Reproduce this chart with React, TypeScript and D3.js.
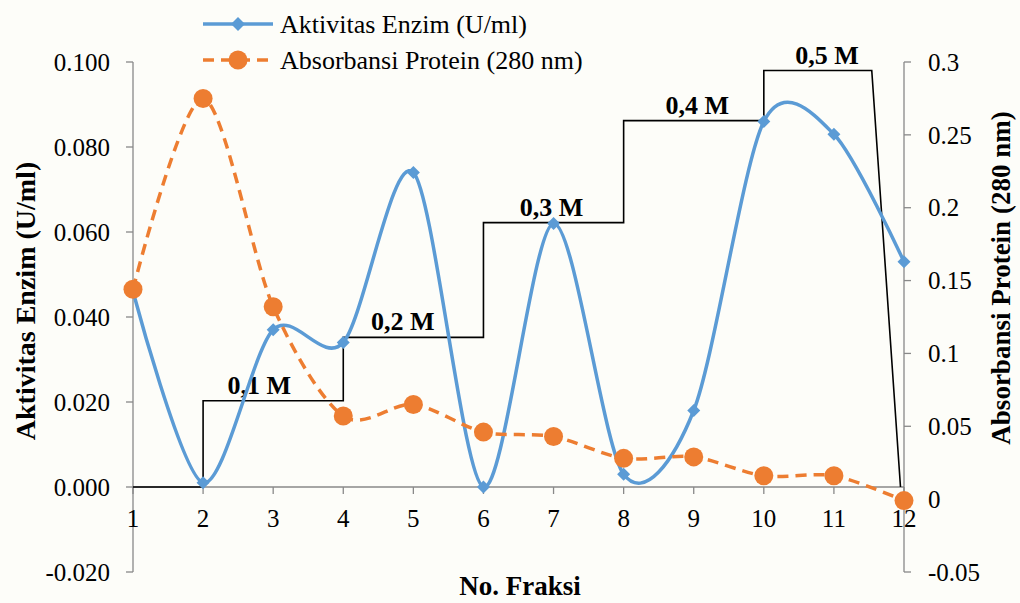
import React from "react";
import * as d3 from "d3";

// Fraction numbers
const fractions: number[] = [1, 2, 3, 4, 5, 6, 7, 8, 9, 10, 11, 12];
// Enzyme activity (U/ml), left axis
const enzymeActivity: number[] = [0.046, 0.001, 0.037, 0.034, 0.074, 0.0, 0.062, 0.003, 0.018, 0.086, 0.083, 0.053];
// Protein absorbance at 280 nm, right axis
const proteinAbsorbance: number[] = [0.144, 0.275, 0.132, 0.057, 0.065, 0.046, 0.043, 0.028, 0.029, 0.016, 0.016, -0.001];

// NaCl step gradient (fraction, level on left axis)
const gradientX: number[] = [1, 2, 2, 4, 4, 6, 6, 8, 8, 10, 10, 11.54, 11.95];
const gradientY: number[] = [0, 0, 0.0203, 0.0203, 0.0352, 0.0352, 0.0622, 0.0622, 0.0862, 0.0862, 0.098, 0.098, 0];
const gradientLabels: string[] = ["0,1 M", "0,2 M", "0,3 M", "0,4 M", "0,5 M"];
const gradientLabelX: number[] = [2.8, 4.85, 6.97, 9.05, 10.9];
const gradientLabelY: number[] = [0.0203, 0.0352, 0.0622, 0.0862, 0.098];

const leftTicks: number[] = [-0.02, 0, 0.02, 0.04, 0.06, 0.08, 0.1];
const rightTicks: number[] = [-0.05, 0, 0.05, 0.1, 0.15, 0.2, 0.25, 0.3];

const W = 1020;
const H = 603;
const FONT = "'Liberation Serif', 'Times New Roman', serif";
const BLUE = "#5b9bd5";
const ORANGE = "#ed7d31";
const AXIS = "#898989";

const x = d3.scaleLinear().domain([1, 12]).range([133, 904]);
const yL = d3.scaleLinear().domain([-0.02, 0.1]).range([572, 62]);
const yR = d3.scaleLinear().domain([-0.05, 0.3]).range([572, 62]);

const smooth = d3.curveCardinal.tension(0.12);

export default function App() {
  const blueLine = d3
    .line<number>()
    .x((_, i) => x(fractions[i]))
    .y((d) => yL(d))
    .curve(smooth)(enzymeActivity) as string;

  const orangeLine = d3
    .line<number>()
    .x((_, i) => x(fractions[i]))
    .y((d) => yR(d))
    .curve(smooth)(proteinAbsorbance) as string;

  const stepLine = d3
    .line<number>()
    .x((_, i) => x(gradientX[i]))
    .y((d) => yL(d))(gradientY) as string;

  const diamond = (cx: number, cy: number, r: number) =>
    `M${cx},${cy - r}L${cx + r},${cy}L${cx},${cy + r}L${cx - r},${cy}Z`;

  const fmtL = (v: number) => v.toFixed(3);
  const fmtR = (v: number) => (v === 0 ? "0" : String(+v.toFixed(2)));

  return (
    <svg
      width={W}
      height={H}
      style={{ position: "absolute", left: 0, top: 0, background: "#fdfdf9" }}
      fontFamily={FONT}
    >
      <rect x={0} y={0} width={W} height={H} fill="#fdfdf9" />

      {/* left axis */}
      <line x1={x(1)} x2={x(1)} y1={yL(0.1)} y2={yL(-0.02)} stroke={AXIS} strokeWidth={1.3} />
      {leftTicks.map((t) => (
        <g key={"l" + t}>
          <line x1={x(1) - 7} x2={x(1)} y1={yL(t)} y2={yL(t)} stroke={AXIS} strokeWidth={1.3} />
          <text x={110} y={yL(t)} dy="0.35em" textAnchor="end" fontSize={25} fill="#000">
            {fmtL(t)}
          </text>
        </g>
      ))}

      {/* right axis */}
      <line x1={x(12)} x2={x(12)} y1={yR(0.3)} y2={yR(-0.05)} stroke={AXIS} strokeWidth={1.3} />
      {rightTicks.map((t) => (
        <g key={"r" + t}>
          <line x1={x(12)} x2={x(12) + 7} y1={yR(t)} y2={yR(t)} stroke={AXIS} strokeWidth={1.3} />
          <text x={928} y={yR(t)} dy="0.35em" textAnchor="start" fontSize={25} fill="#000">
            {fmtR(t)}
          </text>
        </g>
      ))}

      {/* category axis at zero */}
      <line x1={x(1)} x2={x(12)} y1={yL(0)} y2={yL(0)} stroke={AXIS} strokeWidth={1.3} />
      {fractions.map((f) => (
        <g key={"x" + f}>
          <line x1={x(f)} x2={x(f)} y1={yL(0)} y2={yL(0) + 7} stroke={AXIS} strokeWidth={1.3} />
          <text x={x(f)} y={527} textAnchor="middle" fontSize={25} fill="#000">
            {f}
          </text>
        </g>
      ))}

      {/* step gradient */}
      <path d={stepLine} fill="none" stroke="#000" strokeWidth={1.6} />
      {gradientLabels.map((s, i) => (
        <text
          key={s}
          x={x(gradientLabelX[i])}
          y={yL(gradientLabelY[i]) - 7}
          textAnchor="middle"
          fontSize={26}
          fontWeight="bold"
          fill="#000"
        >
          {s}
        </text>
      ))}

      {/* enzyme activity */}
      <path d={blueLine} fill="none" stroke={BLUE} strokeWidth={3.5} strokeLinecap="round" />
      {enzymeActivity.map((v, i) => (
        <path key={"b" + i} d={diamond(x(fractions[i]), yL(v), 6.5)} fill={BLUE} />
      ))}

      {/* protein absorbance */}
      <path d={orangeLine} fill="none" stroke={ORANGE} strokeWidth={3.5} strokeDasharray="11 7" />
      {proteinAbsorbance.map((v, i) => (
        <circle key={"o" + i} cx={x(fractions[i])} cy={yR(v)} r={9.5} fill={ORANGE} />
      ))}

      {/* axis titles */}
      <text
        transform={`translate(35,301) rotate(-90)`}
        textAnchor="middle"
        fontSize={28}
        fontWeight="bold"
        fill="#000"
      >
        Aktivitas Enzim (U/ml)
      </text>
      <text
        transform={`translate(1010,278) rotate(-90)`}
        textAnchor="middle"
        fontSize={27}
        fontWeight="bold"
        fill="#000"
      >
        Absorbansi Protein (280 nm)
      </text>
      <text x={520} y={595} textAnchor="middle" fontSize={27} fontWeight="bold" fill="#000">
        No. Fraksi
      </text>

      {/* legend */}
      <line x1={203} x2={273} y1={24} y2={24} stroke={BLUE} strokeWidth={3.5} />
      <path d={diamond(238, 24, 7)} fill={BLUE} />
      <text x={280} y={33} fontSize={26} fill="#000">
        Aktivitas Enzim (U/ml)
      </text>
      <line x1={203} x2={273} y1={60} y2={60} stroke={ORANGE} strokeWidth={3.5} strokeDasharray="11 7" />
      <circle cx={238} cy={60} r={9.5} fill={ORANGE} />
      <text x={280} y={69} fontSize={26} fill="#000">
        Absorbansi Protein (280 nm)
      </text>
    </svg>
  );
}
